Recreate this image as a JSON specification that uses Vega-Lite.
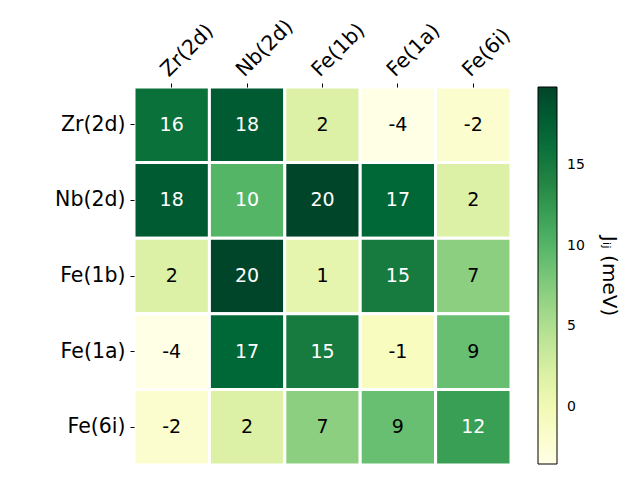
{
  "$schema": "https://vega.github.io/schema/vega-lite/v6.json",
  "autosize": {"type": "none"},
  "padding": {"left": 134, "top": 87, "right": 129, "bottom": 15},
  "width": 377,
  "height": 378,
  "background": "white",
  "config": {"view": {"stroke": null}, "font": "DejaVu Sans"},
  "data": {"values": [
    {"row": "Zr(2d)", "col": "Zr(2d)", "J": 16},
    {"row": "Zr(2d)", "col": "Nb(2d)", "J": 18},
    {"row": "Zr(2d)", "col": "Fe(1b)", "J": 2},
    {"row": "Zr(2d)", "col": "Fe(1a)", "J": -3.55},
    {"row": "Zr(2d)", "col": "Fe(6i)", "J": -2},
    {"row": "Nb(2d)", "col": "Zr(2d)", "J": 18},
    {"row": "Nb(2d)", "col": "Nb(2d)", "J": 10},
    {"row": "Nb(2d)", "col": "Fe(1b)", "J": 19.86},
    {"row": "Nb(2d)", "col": "Fe(1a)", "J": 17},
    {"row": "Nb(2d)", "col": "Fe(6i)", "J": 2},
    {"row": "Fe(1b)", "col": "Zr(2d)", "J": 2},
    {"row": "Fe(1b)", "col": "Nb(2d)", "J": 19.86},
    {"row": "Fe(1b)", "col": "Fe(1b)", "J": 1},
    {"row": "Fe(1b)", "col": "Fe(1a)", "J": 15},
    {"row": "Fe(1b)", "col": "Fe(6i)", "J": 7},
    {"row": "Fe(1a)", "col": "Zr(2d)", "J": -3.55},
    {"row": "Fe(1a)", "col": "Nb(2d)", "J": 17},
    {"row": "Fe(1a)", "col": "Fe(1b)", "J": 15},
    {"row": "Fe(1a)", "col": "Fe(1a)", "J": -1},
    {"row": "Fe(1a)", "col": "Fe(6i)", "J": 9},
    {"row": "Fe(6i)", "col": "Zr(2d)", "J": -2},
    {"row": "Fe(6i)", "col": "Nb(2d)", "J": 2},
    {"row": "Fe(6i)", "col": "Fe(1b)", "J": 7},
    {"row": "Fe(6i)", "col": "Fe(1a)", "J": 9},
    {"row": "Fe(6i)", "col": "Fe(6i)", "J": 12}
  ]},
  "encoding": {
    "x": {"field": "col", "type": "nominal",
      "sort": ["Zr(2d)", "Nb(2d)", "Fe(1b)", "Fe(1a)", "Fe(6i)"],
      "scale": {"paddingInner": 0, "paddingOuter": 0},
      "axis": {"orient": "top", "title": null, "domain": false, "labelAngle": -45, "labelAlign": "left", "labelBaseline": "bottom",
        "labelFontSize": 20.5, "labelColor": "black", "tickColor": "black", "tickSize": 4, "labelPadding": 3}},
    "y": {"field": "row", "type": "nominal",
      "sort": ["Zr(2d)", "Nb(2d)", "Fe(1b)", "Fe(1a)", "Fe(6i)"],
      "scale": {"paddingInner": 0, "paddingOuter": 0},
      "axis": {"title": null, "domain": false, "labelFontSize": 20.5, "labelColor": "black", "tickColor": "black", "tickSize": 4, "labelPadding": 5}}
  },
  "layer": [
    {
      "mark": {"type": "rect", "stroke": "white", "strokeWidth": 3},
      "encoding": {
        "color": {"field": "J", "type": "quantitative",
          "scale": {"domain": [-3.55, -0.62375, 2.3025, 5.22875, 8.155, 11.08125, 14.0075, 16.93375, 19.86],
            "range": ["#ffffe5", "#f7fcb9", "#d9f0a3", "#addd8e", "#78c679", "#41ab5d", "#238443", "#006837", "#004529"],
            "nice": false, "zero": false, "interpolate": "rgb"},
          "legend": {"title": "Jᵢⱼ (meV)", "values": [0, 5, 10, 15], "gradientLength": 377, "gradientThickness": 19,
            "gradientStrokeColor": "black", "gradientStrokeWidth": 1, "offset": 27, "labelFontSize": 14, "labelColor": "black",
            "labelOffset": 10, "titleOrient": "right", "titleAngle": 90, "titleFontSize": 20, "titleFontWeight": "normal",
            "titleColor": "black", "titleAnchor": "middle", "titlePadding": 14}}
      }
    },
    {
      "mark": {"type": "text", "fontSize": 19, "text": {"expr": "replace(format(datum.J, '.0f'), '−', '-')"}},
      "encoding": {
        "color": {"condition": {"test": "datum.J >= 10", "value": "white"}, "value": "black"}
      }
    }
  ]
}
